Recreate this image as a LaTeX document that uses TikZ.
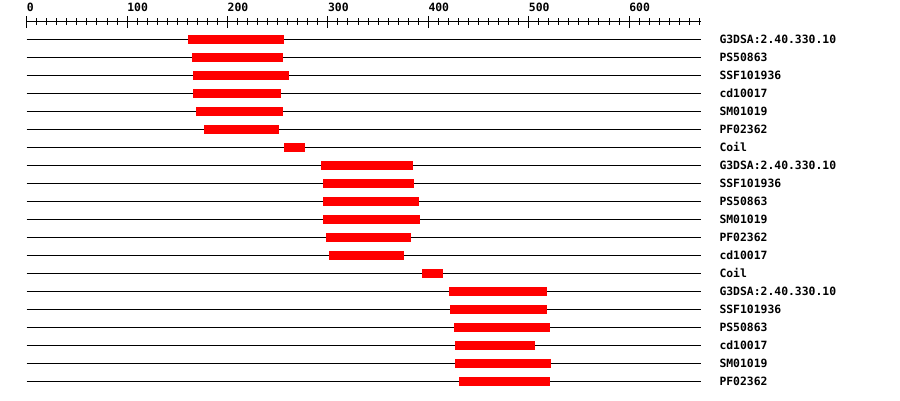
\documentclass[tikz,border=0pt]{standalone}
\usepackage{fontspec}
\setmonofont{DejaVu Sans Mono}
\begin{document}
\begin{tikzpicture}[x=1pt,y=-1pt,
  track/.style={line width=1.1pt,black},
  tickline/.style={line width=1pt,black},
  bar/.style={fill=red,draw=none},
  lab/.style={anchor=base west,inner sep=0pt,font=\ttfamily\bfseries\fontsize{11.4}{12}\selectfont},
  ticklab/.style={anchor=base west,inner sep=0pt,font=\ttfamily\bfseries\fontsize{11.4}{12}\selectfont}]
\useasboundingbox (0,0) rectangle (900,400);
% axis
\draw[tickline] (26.7,21.5) -- (700.7,21.5);
\foreach \u in {0,10,...,670}{
  \draw[tickline] ({26.7+1.004*\u},18.3) -- ({26.7+1.004*\u},25);
}
\foreach \u in {0,100,...,600}{
  \draw[tickline] ({26.7+1.004*\u},16) -- ({26.7+1.004*\u},28.3);
  \node[ticklab] (t\u) at ({26.7+1.004*\u},11.7) {\u};
}
% rows
\foreach \i/\s/\e/\l in {
  1/188/284/G3DSA:2.40.330.10,
  2/192/283/PS50863,
  3/193/289/SSF101936,
  4/193/281/cd10017,
  5/196/283/SM01019,
  6/204/279/PF02362,
  7/284/305/Coil,
  8/321/413/G3DSA:2.40.330.10,
  9/323/414/SSF101936,
  10/323/419/PS50863,
  11/323/420/SM01019,
  12/326/411/PF02362,
  13/329/404/cd10017,
  14/422/443/Coil,
  15/449/547/G3DSA:2.40.330.10,
  16/450/547/SSF101936,
  17/454/550/PS50863,
  18/455/535/cd10017,
  19/455/551/SM01019,
  20/459/550/PF02362}{
  \pgfmathsetmacro{\yy}{39.3+18*(\i-1)}
  \draw[track] (26.7,\yy) -- (700.7,\yy);
  \fill[red] (\s,\yy-4.7) rectangle (\e,\yy+4.7);
  \node[lab] (l\i) at (719.3,\yy+4) {\l};
}
\end{tikzpicture}
\end{document}
